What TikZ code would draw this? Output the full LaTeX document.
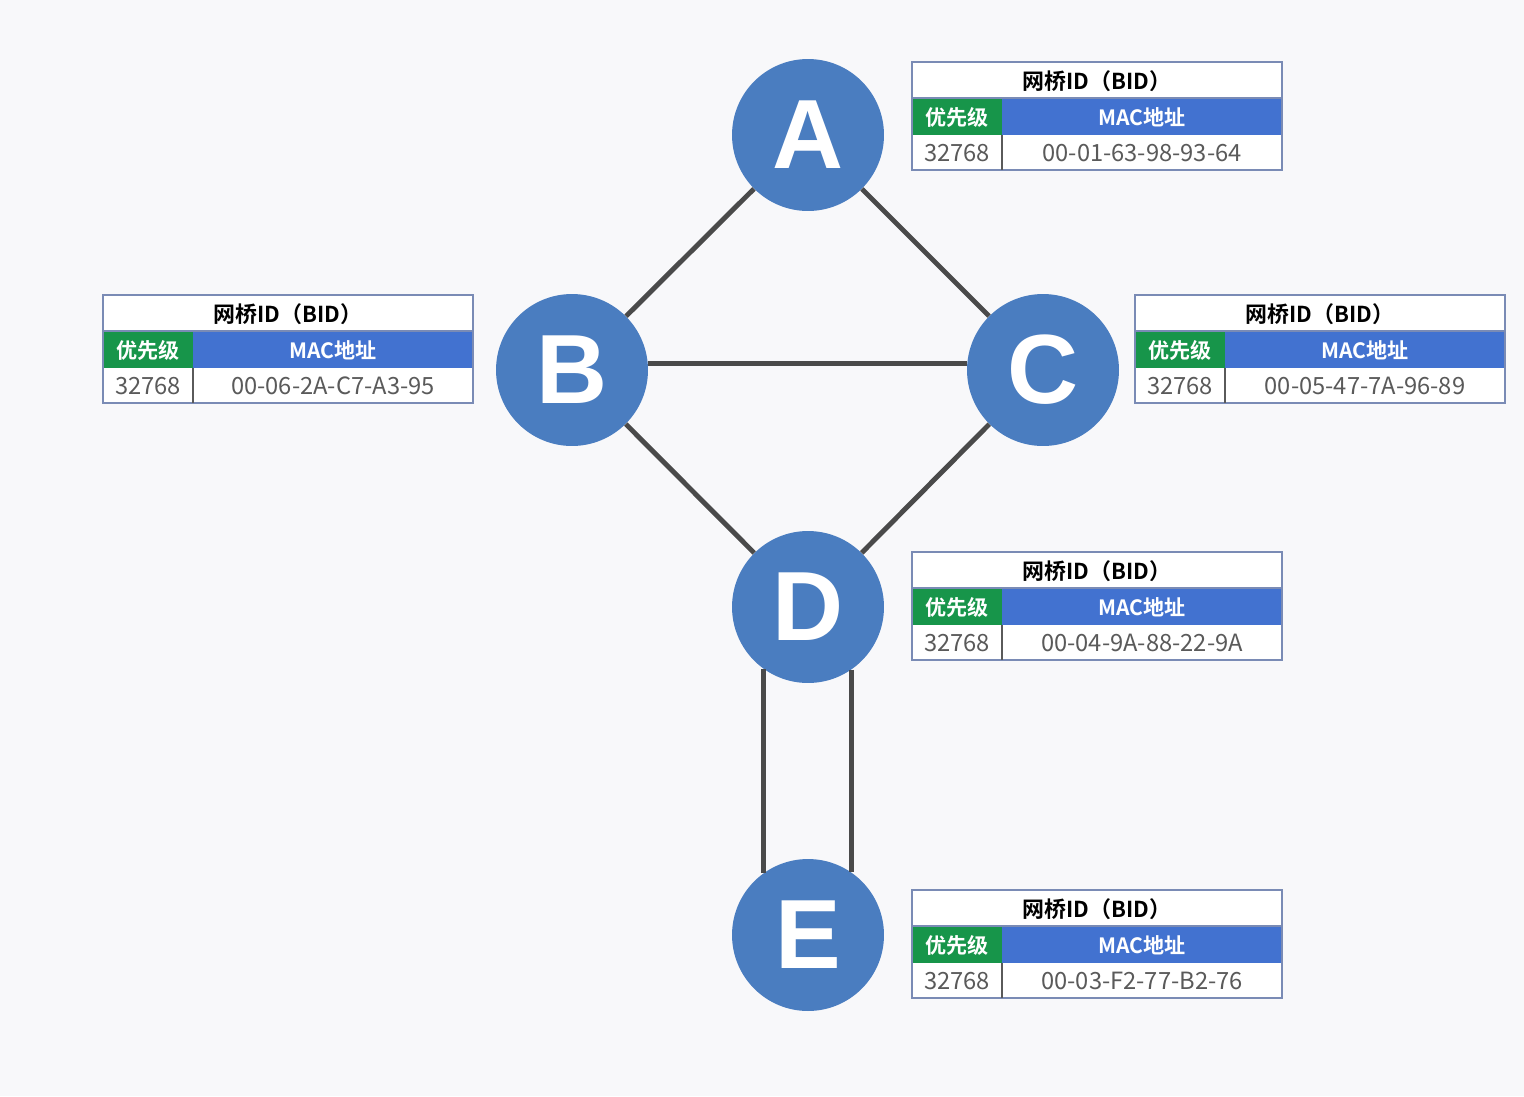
\documentclass[tikz,border=0pt]{standalone}
\usepackage{fontspec}
\newfontfamily\cjk{Noto Sans CJK SC}
\newfontfamily\cjkb{Noto Sans CJK SC Bold}
\setsansfont{Liberation Sans}
\definecolor{bg}{HTML}{F8F8FA}
\definecolor{nodeblue}{HTML}{4A7DC0}
\definecolor{hdrblue}{HTML}{4272D0}
\definecolor{hdrgreen}{HTML}{17954A}
\definecolor{tborder}{HTML}{7A8BB5}
\definecolor{linkgray}{HTML}{4A4A4A}
\definecolor{numgray}{HTML}{5A5A5A}
\tikzset{
  px/.style={x=0.02cm,y=-0.02cm},
  bridge/.style={circle,fill=nodeblue,minimum size=3.04cm,inner sep=0pt,text=white,font=\sffamily\bfseries\fontsize{56}{56}\selectfont},
  link/.style={draw=linkgray,line width=2.8pt},
  ttitle/.style={font=\cjkb\fontsize{12.5}{12.5}\selectfont,text=black},
  thead/.style={font=\cjkb\fontsize{12}{12}\selectfont,text=white},
  tdata/.style={font=\cjk\fontsize{13.5}{13.5}\selectfont,text=numgray},
}
\newcommand\bidtable[4]{% name, x, y (top-left), mac
  \fill[white] (#2,#3) rectangle ++(370,108);
  \fill[hdrgreen] (#2,#3+36) rectangle ++(90,37);
  \fill[hdrblue] (#2+90,#3+36) rectangle ++(280,37);
  \draw[tborder,line width=1pt] (#2,#3) rectangle ++(370,108);
  \draw[tborder,line width=1pt] (#2,#3+36) -- ++(370,0);
  \draw[numgray,line width=1pt] (#2+90,#3+73) -- ++(0,35);
  \node[ttitle] (#1t) at (#2+185,#3+19) {网桥ID（BID）};
  \node[thead] (#1p) at (#2+45,#3+55) {优先级};
  \node[thead] (#1m) at (#2+230,#3+55) {MAC地址};
  \node[tdata] (#1n) at (#2+45,#3+91) {32768};
  \node[tdata] (#1a) at (#2+230,#3+91) {#4};
}
\begin{document}
\begin{tikzpicture}[px]
\fill[bg] (0,0) rectangle (1524,1096);
\useasboundingbox (0,0) rectangle (1524,1096);
\node[bridge] (A) at (808,135) {A};
\node[bridge] (B) at (572,370) {B};
\node[bridge] (C) at (1043,370) {C};
\node[bridge] (D) at (808,607) {D};
\node[bridge] (E) at (808,935) {E};
\draw[link] (A) -- (B);
\draw[link] (A) -- (C);
\draw[link] (B.5) -- (C.175);
\draw[link] (B) -- (D);
\draw[link] (C) -- (D);
\draw[link] (D.-126) -- (E.126);
\draw[link] (D.-55) -- (E.55);
\bidtable{tA}{912}{62}{00-01-63-98-93-64}
\bidtable{tB}{103}{295}{00-06-2A-C7-A3-95}
\bidtable{tC}{1135}{295}{00-05-47-7A-96-89}
\bidtable{tD}{912}{552}{00-04-9A-88-22-9A}
\bidtable{tE}{912}{890}{00-03-F2-77-B2-76}
\end{tikzpicture}
\end{document}
